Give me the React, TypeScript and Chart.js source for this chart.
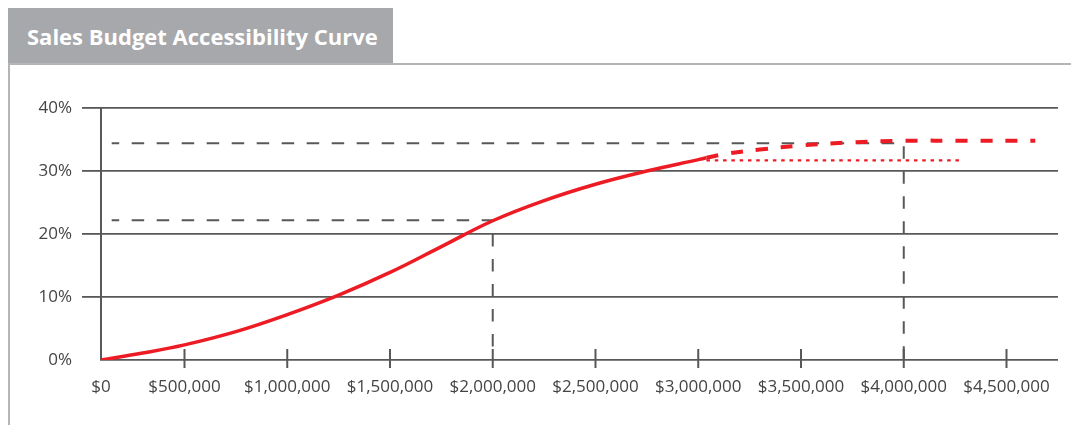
import React, { useEffect, useRef } from "react";
import { Chart, registerables, LinearScale } from "chart.js";

// ---- data ----
const xTickValues = [0, 500000, 1000000, 1500000, 2000000, 2500000, 3000000, 3500000, 4000000, 4500000];
const yTickValues = [0, 10, 20, 30, 40];

const actualBudget = [0, 250000, 500000, 750000, 1000000, 1250000, 1500000, 1750000, 2000000, 2250000, 2500000, 2750000, 3000000, 3040000];
const actualPct = [0, 1.1, 2.4, 4.5, 7.2, 10.3, 13.9, 18.0, 22.1, 25.3, 27.9, 30.0, 31.8, 32.1];

const projectedBudget = [3040000, 3150000, 3300000, 3500000, 3750000, 4000000, 4300000, 4640000];
const projectedPct = [32.1, 32.8, 33.4, 34.05, 34.55, 34.8, 34.8, 34.8];

const flatBudget = [3040000, 4280000];
const flatPct = [31.7, 31.7];

const guideLowBudget = [64000, 2000000, 2000000];
const guideLowPct = [22.2, 22.2, 0];

const guideHighBudget = [64000, 4000000, 4000000];
const guideHighPct = [34.4, 34.4, 0];

const TITLE = "Sales Budget Accessibility Curve";

// ---- scale config ----
const BREAK_VALUE = 500000;
const X_MIN = 93700;
const X_MAX = 4750600;

class BudgetScale extends LinearScale {
  static id = "budget";
  static defaults = {};
  getPixelForValue(value: number, index?: number) {
    if (value < BREAK_VALUE) {
      const pb = super.getPixelForValue(BREAK_VALUE);
      return this.left + ((pb - this.left) * value) / BREAK_VALUE;
    }
    return super.getPixelForValue(value);
  }
}

Chart.register(...registerables, BudgetScale);

const FONT = "'Open Sans', 'DejaVu Sans', sans-serif";
const RED = "#ed1c24";
const GRAY = "#585858";

const pts = (xs: number[], ys: number[]) => xs.map((x, i) => ({ x, y: ys[i] }));

const fmtMoney = (v: number) => "$" + Math.round(v).toLocaleString("en-US");

const tickMarks = {
  id: "tickMarks",
  beforeDatasetsDraw(chart: any) {
    const xs = chart.scales.x;
    const ys = chart.scales.y;
    const y0 = ys.getPixelForValue(0);
    const ctx = chart.ctx;
    ctx.save();
    ctx.strokeStyle = GRAY;
    ctx.lineWidth = 2;
    ctx.beginPath();
    xTickValues.forEach((v) => {
      if (v === 0) return;
      const px = xs.getPixelForValue(v);
      ctx.moveTo(px, y0 - 11);
      ctx.lineTo(px, y0 + 8);
    });
    ctx.stroke();
    ctx.restore();
  },
};

export default function App() {
  const canvasRef = useRef<HTMLCanvasElement>(null);

  useEffect(() => {
    if (!canvasRef.current) return;
    const chart = new Chart(canvasRef.current, {
      type: "line",
      data: {
        datasets: [
          {
            label: "Actual",
            data: pts(actualBudget, actualPct),
            borderColor: RED,
            borderWidth: 3.5,
            pointRadius: 0,
            tension: 0.4,
            order: 1,
          },
          {
            label: "Projected",
            data: pts(projectedBudget, projectedPct),
            borderColor: RED,
            borderWidth: 4,
            borderDash: [12, 13],
            pointRadius: 0,
            tension: 0.4,
            order: 2,
          },
          {
            label: "Flat",
            data: pts(flatBudget, flatPct),
            borderColor: RED,
            borderWidth: 2.2,
            borderDash: [3.5, 4.8],
            pointRadius: 0,
            order: 3,
          },
          {
            label: "Guide low",
            data: pts(guideLowBudget, guideLowPct),
            borderColor: GRAY,
            borderWidth: 2,
            borderDash: [12.5, 12.5],
            borderDashOffset: 5,
            pointRadius: 0,
            tension: 0,
            order: 4,
          },
          {
            label: "Guide high",
            data: pts(guideHighBudget, guideHighPct),
            borderColor: GRAY,
            borderWidth: 2,
            borderDash: [12.5, 12.5],
            borderDashOffset: 5,
            pointRadius: 0,
            tension: 0,
            order: 5,
          },
        ],
      },
      options: {
        animation: false,
        responsive: false,
        layout: { padding: { left: 0, right: 21, top: 108, bottom: 0 } },
        plugins: { legend: { display: false }, tooltip: { enabled: false } },
        scales: {
          x: {
            type: "budget" as any,
            position: "bottom",
            bounds: "data",
            afterDataLimits: (s: any) => {
              s.min = X_MIN;
              s.max = X_MAX;
            },
            afterBuildTicks: (s: any) => {
              s.ticks = xTickValues.map((v) => ({ value: v }));
            },
            afterFit: (s: any) => {
              s.height = 67;
            },
            grid: { display: false, drawTicks: false },
            border: { display: false },
            ticks: {
              autoSkip: false,
              maxRotation: 0,
              padding: 17,
              color: "#444",
              font: { family: FONT, size: 17 },
              callback: (v: any) => fmtMoney(Number(v)),
            },
          },
          y: {
            min: 0,
            max: 40,
            afterBuildTicks: (s: any) => {
              s.ticks = yTickValues.map((v) => ({ value: v }));
            },
            afterFit: (s: any) => {
              s.width = 101;
            },
            grid: {
              color: GRAY,
              lineWidth: 1.8,
              tickLength: 19,
              tickWidth: 1.8,
              tickColor: (c: any) => (c.tick && c.tick.value === 0 ? "rgba(0,0,0,0)" : GRAY),
            },
            border: { display: true, color: GRAY, width: 2 },
            ticks: {
              padding: 10,
              color: "#444",
              font: { family: FONT, size: 17 },
              callback: (v: any) => v + "%",
            },
          },
        },
      },
      plugins: [tickMarks],
    });
    return () => chart.destroy();
  }, []);

  return (
    <div style={{ position: "relative", width: 1071, height: 419 }}>
      <div
        style={{
          position: "absolute",
          left: 0,
          top: 0,
          width: 385,
          height: 55,
          background: "#a7a8ab",
          display: "flex",
          alignItems: "center",
          paddingLeft: 19,
          boxSizing: "border-box",
          color: "#fff",
          fontFamily: FONT,
          fontWeight: 700,
          fontSize: 22,
          whiteSpace: "nowrap",
        }}
      >
        {TITLE}
      </div>
      <div style={{ position: "absolute", left: 0, top: 55, width: 1071, height: 2, background: "#b5b5b5" }} />
      <div style={{ position: "absolute", left: 0, top: 55, width: 2, height: 362, background: "#b5b5b5" }} />
      <canvas
        ref={canvasRef}
        width={1079}
        height={427}
        style={{ position: "absolute", left: -8, top: -8, width: 1079, height: 427 }}
      />
    </div>
  );
}
